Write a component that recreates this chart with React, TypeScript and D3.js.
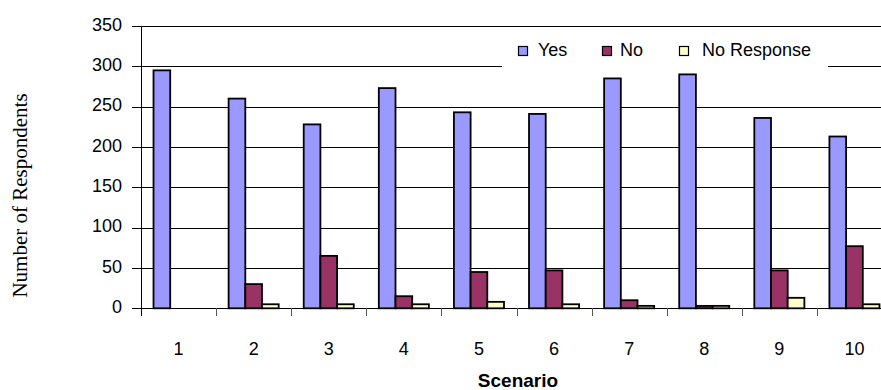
import React from "react";
import * as d3 from "d3";

const scenarios = ["1", "2", "3", "4", "5", "6", "7", "8", "9", "10"];
const seriesNames = ["Yes", "No", "No Response"];
const yesValues = [295, 260, 228, 273, 243, 241, 285, 290, 236, 213];
const noValues = [0, 30, 65, 15, 45, 47, 10, 3, 47, 77];
const noResponseValues = [0, 5, 5, 5, 8, 5, 3, 3, 13, 5];
const seriesColors = ["#9999FF", "#993366", "#FFFFCC"];
const yTicks = [0, 50, 100, 150, 200, 250, 300, 350];

const W = 881;
const H = 390;
const plotLeft = 141;
const plotRight = 892;
const plotTop = 26;
const plotBottom = 308.3;

const sans = "'Liberation Sans', Arial, sans-serif";
const serif = "'Liberation Serif', 'Times New Roman', serif";

export default function App() {
  const values = [yesValues, noValues, noResponseValues];

  const x = d3.scaleBand<string>().domain(scenarios).range([plotLeft, plotRight]).paddingInner(0).paddingOuter(0);
  const xs = d3
    .scaleBand<string>()
    .domain(seriesNames)
    .range([0, x.bandwidth()])
    .paddingInner(0)
    .paddingOuter(0.75);
  const y = d3.scaleLinear().domain([0, 350]).range([plotBottom, plotTop]);

  const boundaries = scenarios.map((s) => x(s) as number);

  return (
    <svg
      width={W}
      height={H}
      style={{ position: "absolute", left: 0, top: 0, background: "#fff" }}
    >
      {/* horizontal gridlines */}
      {yTicks.map((t) => (
        <line
          key={"g" + t}
          x1={plotLeft}
          x2={plotRight}
          y1={Math.round(y(t)) + 0.5}
          y2={Math.round(y(t)) + 0.5}
          stroke="#000"
          strokeWidth={1}
        />
      ))}

      {/* legend */}
      <rect x={502} y={30} width={326} height={40} fill="#fff" />
      {seriesNames.map((name, i) => {
        const sq = [518, 602, 679][i];
        const tx = [538, 620, 702][i];
        return (
          <g key={"lg" + name}>
            <rect
              x={sq + 0.5}
              y={46.5}
              width={9}
              height={9}
              fill={seriesColors[i]}
              stroke="#000"
              strokeWidth={1.2}
            />
            <text x={tx} y={56} fontFamily={sans} fontSize={18} fill="#000">
              {name}
            </text>
          </g>
        );
      })}

      {/* bars */}
      {seriesNames.map((name, si) => (
        <g key={"s" + name} fill={seriesColors[si]} stroke="#000" strokeWidth={1.8}>
          {scenarios.map((c, ci) => {
            const v = values[si][ci];
            if (v <= 0) return null;
            const bx = (x(c) as number) + (xs(name) as number);
            return (
              <rect
                key={c}
                x={bx}
                y={y(v)}
                width={xs.bandwidth()}
                height={y(0) - y(v)}
              />
            );
          })}
        </g>
      ))}

      {/* axes */}
      <line x1={plotLeft} x2={plotRight} y1={Math.round(y(0)) + 0.5} y2={Math.round(y(0)) + 0.5} stroke="#000" />
      <line x1={plotLeft + 0.5} x2={plotLeft + 0.5} y1={plotTop} y2={316} stroke="#000" />
      {yTicks.map((t) => (
        <g key={"yt" + t}>
          <line
            x1={132}
            x2={plotLeft}
            y1={Math.round(y(t)) + 0.5}
            y2={Math.round(y(t)) + 0.5}
            stroke="#000"
          />
          <text
            x={122}
            y={y(t) + 4.7}
            textAnchor="end"
            fontFamily={sans}
            fontSize={18}
            fill="#000"
          >
            {t}
          </text>
        </g>
      ))}
      {boundaries.slice(1).map((bx, i) => (
        <line
          key={"xt" + i}
          x1={Math.round(bx) + 0.5}
          x2={Math.round(bx) + 0.5}
          y1={308}
          y2={316}
          stroke="#555"
        />
      ))}
      {scenarios.map((c) => (
        <text
          key={"xl" + c}
          x={(x(c) as number) + x.bandwidth() / 2}
          y={355}
          textAnchor="middle"
          fontFamily={sans}
          fontSize={18}
          fill="#000"
        >
          {c}
        </text>
      ))}

      {/* axis titles */}
      <text
        x={518}
        y={387}
        textAnchor="middle"
        fontFamily={sans}
        fontSize={19}
        fontWeight="bold"
        fill="#000"
      >
        Scenario
      </text>
      <text
        transform="translate(26.7,195.5) rotate(-90)"
        textAnchor="middle"
        fontFamily={serif}
        fontSize={21}
        fill="#000"
      >
        Number of Respondents
      </text>
    </svg>
  );
}
